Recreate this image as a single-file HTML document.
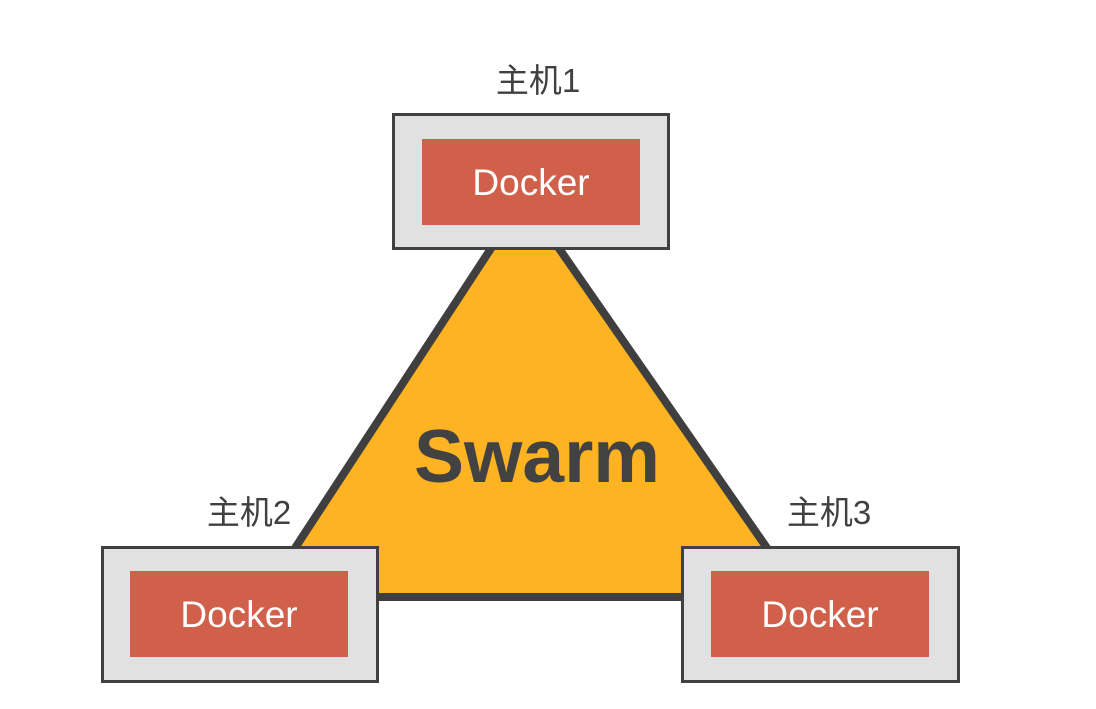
<!DOCTYPE html>
<html><head><meta charset="utf-8"><style>
html,body{margin:0;padding:0;background:#fff;width:1096px;height:709px;overflow:hidden}
</style></head><body>
<svg width="1096" height="709" xmlns="http://www.w3.org/2000/svg">
<polygon points="524,198 263,597 801,597" fill="#fdb322" stroke="#3f3f3f" stroke-width="8" stroke-linejoin="miter"/>
<text x="537" y="482" text-anchor="middle" font-family="Liberation Sans, sans-serif" font-weight="bold" font-size="75" fill="#424242">Swarm</text>
<g font-family="Liberation Sans, 'Noto Sans CJK SC', sans-serif" font-size="33" fill="#404040" text-anchor="middle">
<text x="538" y="92">主机1</text>
<text x="249" y="524">主机2</text>
<text x="829" y="524">主机3</text>
</g>
<g stroke="#404040" stroke-width="3" fill="#e1e1e1">
<rect x="393.5" y="114.5" width="275" height="134"/>
<rect x="102.5" y="547.5" width="275" height="134"/>
<rect x="682.5" y="547.5" width="276" height="134"/>
</g>
<g fill="#d0604a">
<rect x="422" y="139" width="218" height="86"/>
<rect x="130" y="571" width="218" height="86"/>
<rect x="711" y="571" width="218" height="86"/>
</g>
<g font-family="Liberation Sans, sans-serif" font-size="37" fill="#fff" text-anchor="middle">
<text x="531" y="195">Docker</text>
<text x="239" y="627">Docker</text>
<text x="820" y="627">Docker</text>
</g>
</svg>
</body></html>
